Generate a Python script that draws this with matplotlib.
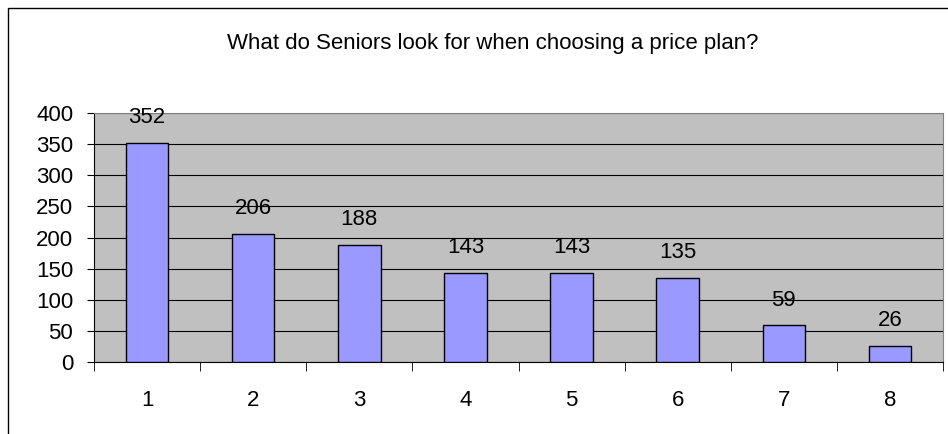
import matplotlib.pyplot as plt
from matplotlib.patches import Rectangle

categories = ['1', '2', '3', '4', '5', '6', '7', '8']
counts = [352, 206, 188, 143, 143, 135, 59, 26]

plt.rcParams['font.family'] = 'Liberation Sans'

fig = plt.figure(figsize=(9.48, 4.34), dpi=100)
W, H = 948, 434

# outer chart frame
fig.patches.append(Rectangle((8 / W, -0.1), 1.0, (H - 8) / H + 0.1,
                             transform=fig.transFigure, fill=False,
                             edgecolor='black', lw=1.0))

ax = fig.add_axes([94 / W, 1 - 362 / H, (943 - 94) / W, (362 - 113) / H])
ax.set_facecolor('#C0C0C0')

x = range(len(categories))
ax.bar(x, counts, width=0.4, color='#9999FF', edgecolor='black', lw=1.0, zorder=3)
for xi, v in zip(x, counts):
    ax.annotate(str(v), (xi, v), xytext=(0, 25), textcoords='offset pixels',
                ha='center', va='center', fontsize=16)

ax.set_xlim(-0.5, len(categories) - 0.5)
ax.set_ylim(0, 400)
ax.set_yticks(range(0, 401, 50))
ax.yaxis.grid(True, color='black', lw=0.8, zorder=1)
ax.set_axisbelow(True)

# category labels centred, ticks on the boundaries
ax.set_xticks(list(x))
ax.set_xticklabels(categories, fontsize=16)
ax.tick_params(axis='x', length=0, pad=20)
ax.set_xticks([i - 0.5 for i in range(len(categories) + 1)], minor=True)
ax.tick_params(axis='x', which='minor', length=6.5, direction='out', color='black')
ax.tick_params(axis='y', length=5, direction='out', labelsize=16, pad=10)

for side in ['top', 'right']:
    ax.spines[side].set_color('#808080')
ax.spines['left'].set_color('black')
ax.spines['bottom'].set_color('black')

fig.text(493 / W, 1 - 44 / H, 'What do Seniors look for when choosing a price plan?',
         ha='center', va='center', fontsize=16)

fig.savefig('out.png', dpi=100)
